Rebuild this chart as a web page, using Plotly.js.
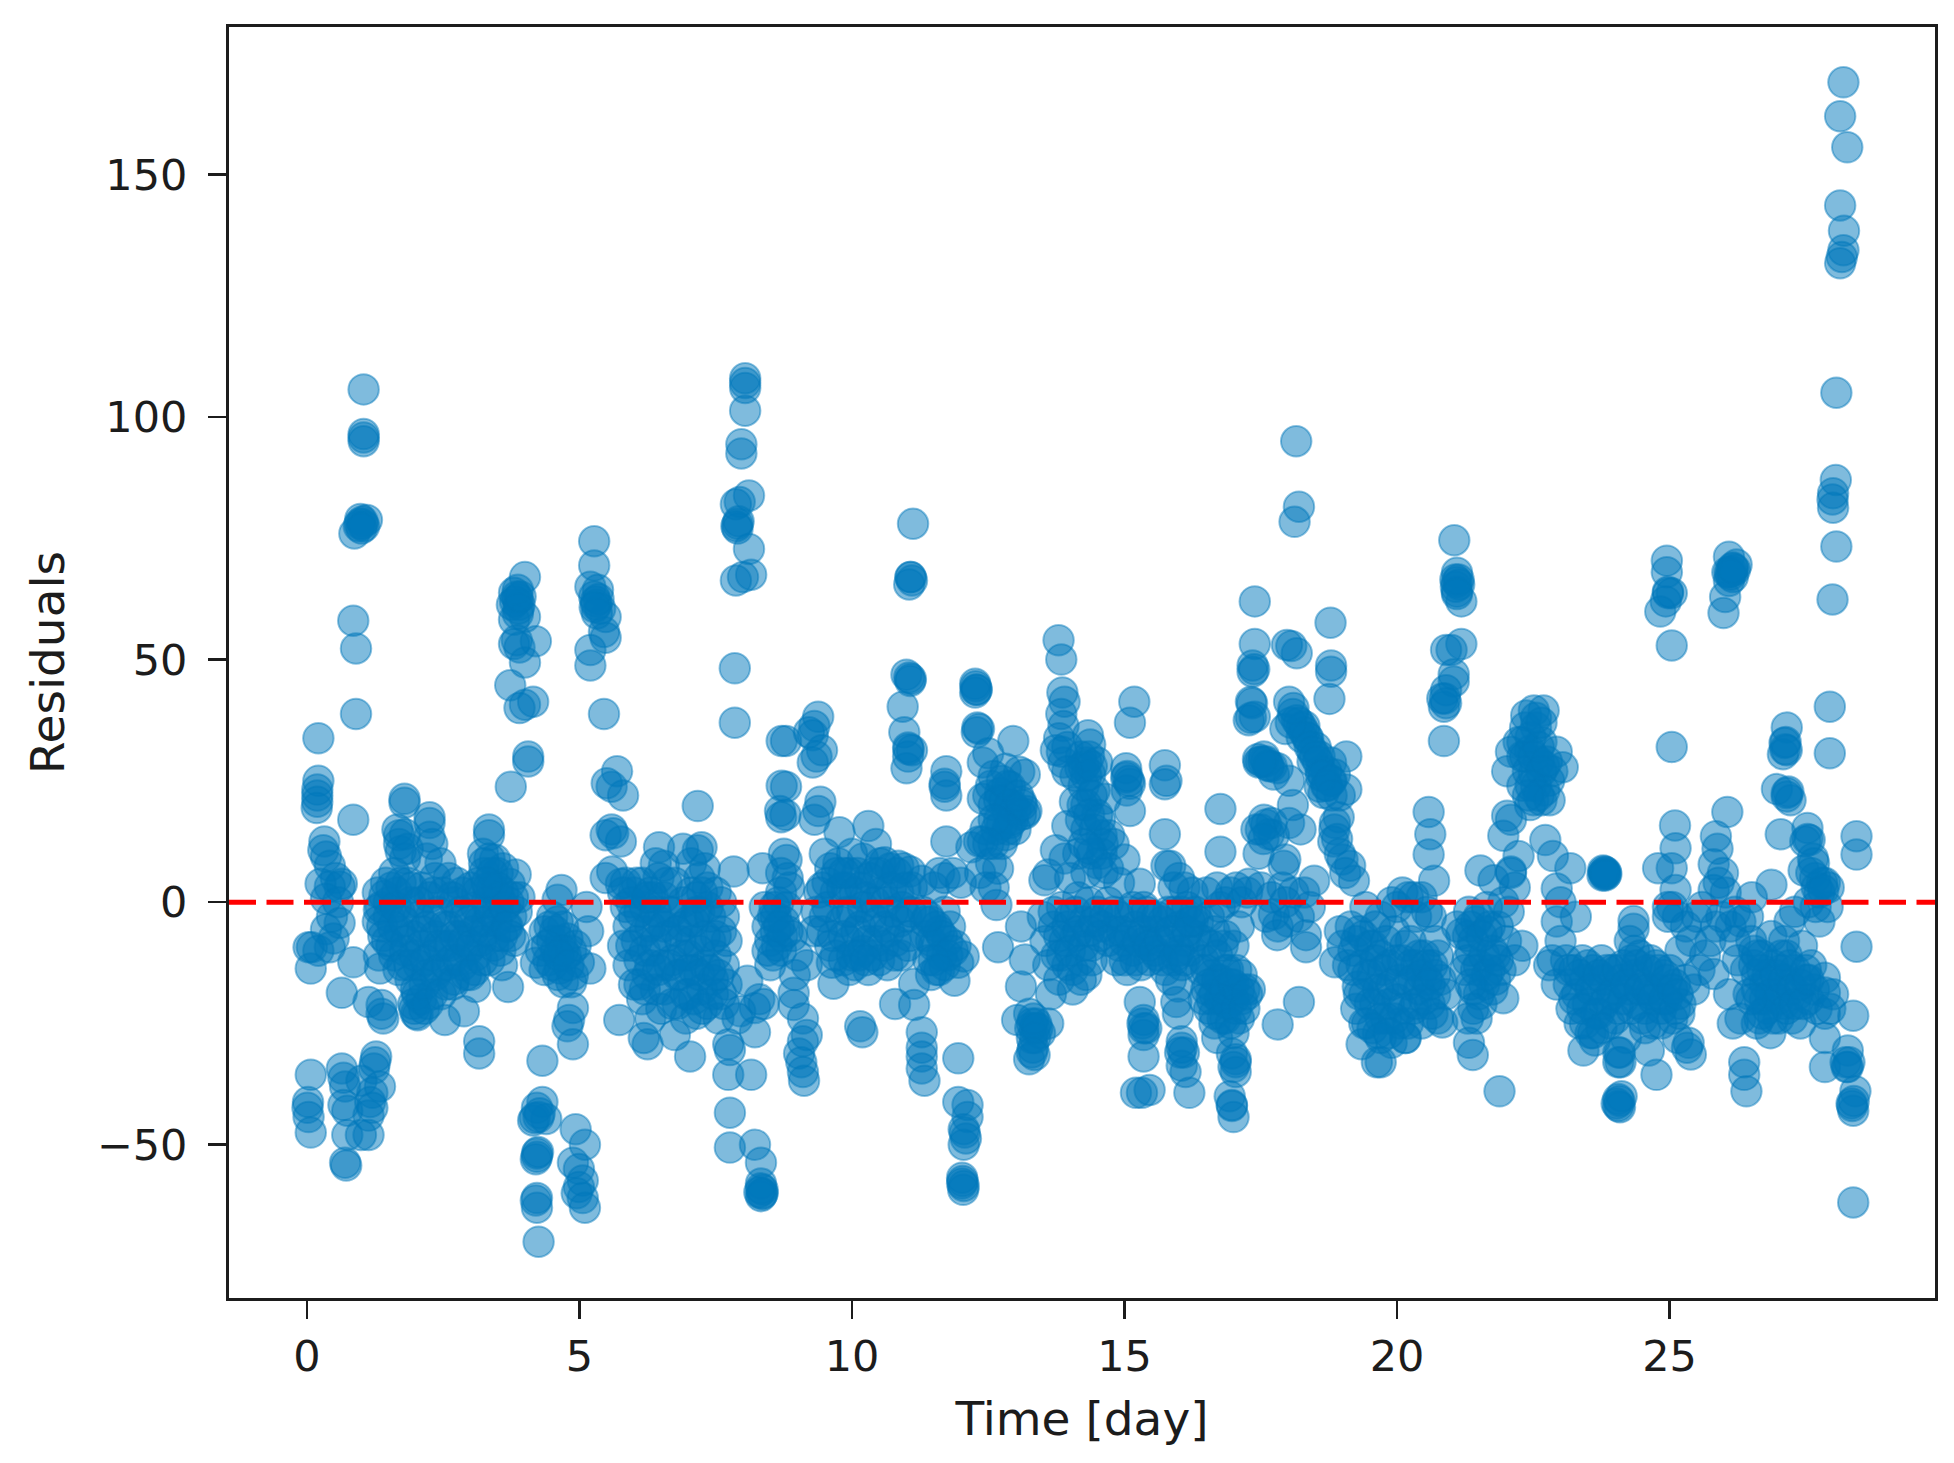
<!DOCTYPE html>
<html><head><meta charset="utf-8">
<script src="https://cdn.plot.ly/plotly-3.0.1.min.js"></script>
<style>html,body{margin:0;padding:0;background:#fff}</style></head>
<body><div id="chart" style="width:1954px;height:1463px"></div>
<script>
const week1 = [
[0.07,-35.6],[0.02,-41.2],[0.01,-42.4],[0.03,-44.3],[0.07,-47.5],[0.07,-13.7],[0.09,-9.3],[0.03,-9.3],
[0.21,33.8],[0.21,25],[0.19,23.2],[0.19,22],[0.19,20.7],[0.18,19.4],[0.32,12.5],[0.3,10.7],[0.35,9.4],[0.42,7.5],[0.53,5],[0.64,3.8],[0.6,3.2],[0.42,3.2],[0.25,3.8],[0.35,0.7],[0.57,0],[0.46,-3],[0.6,-4.3],[0.35,-5.6],[0.49,-7.5],[0.42,-9.3],[0.21,-10],[0.85,-12.4],[0.64,-18.7],
[1.04,105.7],[1.04,96.5],[1.04,95],[0.98,79],[1.02,78],[0.95,77.5],[0.87,76],[1.1,78.8],[0.85,58],[0.9,52.3],[0.9,38.8],[0.85,17],
[0.64,-34.3],[0.67,-36.2],[0.7,-38],[0.67,-41.8],[0.74,-43],[0.74,-48],[0.7,-53.7],[0.72,-54.3],[1.27,-31.8],[1.25,-33],[1.23,-34.3],[1.0,-36.8],[1.34,-38],[1.2,-39.3],[1.16,-41.2],[1.2,-42.4],[1.13,-44],[1.13,-48],[0.99,-48],
[1.13,-20.6],[1.37,-21.2],[1.37,-23],[1.4,-24],[1.34,-13.7],[1.32,-11],
[1.79,21.3],[1.79,20.5],[2.25,17.5],[2.25,16.3],[2.25,13.5],[1.69,13.8],[1.69,12],[1.66,15],[1.72,10.5],[3.34,15],[3.34,13.8],[3.23,10],[3.45,8.8],[3.83,5.7],[3.72,3.8],[3.16,-28.7],[3.16,-31.2],[1.97,-22],[2.03,-23.3],[2.53,-24.3],[2.88,-22.5],[3.09,-17.5],[3.69,-17.5],[3.58,-13],
[1.3,2],[1.35,-1],[1.3,-4],[1.4,-7],[1.45,4],[1.5,0],[1.5,-3],[1.55,-9],[1.6,-11],[1.6,6],[1.65,2],[1.7,-2],[1.7,-6],[1.75,-13],[1.8,-10],[1.8,9],[1.85,4],[1.9,0],[1.9,-16],[1.95,-21],[1.95,-7],[2,-18],[2,-23],[2.05,-13],[2.05,-3],[2.1,3],[2.1,-9],[2.1,-20],[2.15,-22],[2.2,9],[2.2,-5],[2.2,-15],[2.25,1],[2.3,-11],[2.3,-19],[2.35,5],[2.35,-7],[2.4,-2],[2.4,-14],[2.45,8],[2.5,-9],[2.5,2],[2.55,-17],[2.6,-5],[2.6,5],[2.65,-12],[2.7,0],[2.7,-16],[2.75,4],[2.8,-7],[2.85,-13],[2.85,2],[2.9,-3],[2.95,-10],[3,-15],[3,3],[3.05,-6],[3.1,-1],[3.1,-11],[3.15,4],[3.2,-8],[3.25,6],[3.3,0],[3.3,-4],[3.35,-12],[3.4,3],[3.45,-7],[3.5,6],[3.5,-1],[3.55,-10],[3.6,2],[3.65,-5],[3.7,0],[3.75,-3],[3.8,-8],[3.85,-2],[3.9,1],[3.6,7],[3.35,9],[3.25,8],
[4.0,67],[3.87,64.4],[3.8,63.8],[3.87,62.5],[3.76,61.3],[3.9,61.3],[3.87,59.4],[4.0,58.8],[3.8,58.2],[3.8,53.2],[3.9,52.5],[4.2,53.8],[4,49.4],[3.73,44.7],[4,40.7],[4.15,41.3],[3.9,40],[4.06,30],[4.06,29],[3.74,23.8],
[4.67,2.5],[4.6,0.5],[5.13,-1],[5.16,-6],[5.2,-13.7],[4.36,-6],[4.29,-10],[4.5,-3],[4.7,-5],[4.78,-7.5],[4.57,-10],[4.43,-12],[4.64,-13.7],[4.88,-15],[4.99,-12.4],[4.36,-14],[4.2,-12.5],[4.7,-16.5],[4.85,-16.5],[4.5,-8],[4.6,-15],[4.93,-9],
[4.88,-21.8],[4.81,-24.3],[4.78,-25.6],[4.88,-29.3],[4.32,-32.7],[4.32,-41.2],[4.22,-42.4],[4.15,-45],[4.39,-44.7],[4.25,-44.3],[4.22,-51.8],[4.2,-53],[4.22,-61],[4.22,-63],[4.25,-70],
[4.93,-46.8],[5.1,-50],[4.88,-53.7],[4.99,-55],[5.06,-57.4],[4.99,-58.7],[4.95,-60],[5.06,-61],[5.1,-63],
[5.27,74.4],[5.27,69.4],[5.2,65],[5.34,64.4],[5.27,63],[5.31,61.3],[5.38,60.5],[5.48,58.8],[5.45,55.7],[5.48,54.5],[5.2,52],[5.2,48.8],[5.45,38.8],
[5.69,27],[5.59,23.8],[5.8,22],[5.5,24.5],[5.59,15],[5.62,14.2],[5.48,13.8],[5.76,12.5],[5.6,6.3],[5.48,5],[5.76,3.8],
[5.73,-24.3],[6.25,-29.3],[7.03,-31.8],[6.75,-27.4],[6.18,-28],
[6.46,11.3],[6.4,8],[6.55,7.5],[7.17,19.8],[7.24,11.3],[7.17,10.7],[7.05,8],[7.3,7],[7.83,6.3],[8.36,7],[7.2,5],[7.35,3],[6.9,11],
[5.8,2],[5.85,-1],[5.9,-5],[5.8,-9],[5.9,-13],[6,2],[6,-3],[6.05,-8],[6,-17],[6.1,-12],[6.15,4],[6.2,-1],[6.2,-6],[6.15,-20],[6.25,-15],[6.3,-24],[6.35,1],[6.35,-10],[6.4,-18],[6.45,-4],[6.5,-13],[6.5,-22],[6.55,1],[6.6,-7],[6.7,-12],[6.7,-2],[6.75,4],[6.8,-21],[6.85,-8],[6.85,-15],[6.9,0],[6.95,-24],[7,-4],[7,-11],[7,-19],[7.05,2],[7.1,-14],[7.15,-2],[7.15,-23],[7.2,-10],[7.25,-18],[7.3,-13],[7.35,-1],[7.35,-21],[7.4,-8],[7.45,-16],[7.5,2],[7.5,-11],[7.55,-24],[7.6,-6],[7.6,-19],[7.65,-13],[7.7,-8],[7.7,-17],
[7.73,-29.3],[7.76,-30.5],[7.73,-35.6],[8.15,-35.6],[7.76,-43.4],[7.76,-50.6],[8.22,-50],[8.33,-53.7],[8.33,-58],[8.36,-59.3],[8.33,-60.6],[8.36,-60],[8.22,-21.8],[8.22,-26.8],[8.08,-16.2],[7.95,-22.5],[7.9,-24],[8.3,-20],
[8.04,108],[8.04,106],[8.04,101.3],[7.97,94.4],[7.97,92.5],[8.11,83.8],[7.87,82],[7.94,82.5],[7.9,78],[7.9,77],[8.11,72.8],[8,67],[8.15,67.5],[7.87,66.3],[7.85,48.2],[7.85,37]
];
const week2 = [
[8.71,33.2],[8.71,24],[8.68,18.8],[8.7,17.5],[8.78,18],[8.79,33.2],[8.79,23.8],[8.75,10],[8.8,8.7],[8.82,5],[8.7,6],[8.4,-1],[8.45,-5],[8.5,-8],[8.55,-3],[8.6,-6],[8.65,0],[8.7,-10],[8.75,-4],[8.8,-1],[8.85,3],[8.9,-7],[8.55,-11],
[9.38,38.2],[9.31,36.3],[9.28,34.4],[9.21,35],[9.45,31.3],[9.35,30],[9.28,28.8],[9.42,20.7],[9.38,18.8],[9.31,17],
[10.15,-25.6],[10.19,-26.8],[10.79,-21],[11.14,-16.8],[11.14,-21.2],[11.28,-26.8],[11.28,-30],[11.28,-31.8],[11.28,-34.3],[11.33,-36.8],
[9.1,-28.7],[9.03,-31.2],[9.07,-33],[9.1,-35],[9.12,-36.8],[9.17,-27.4],[9.17,-13],[8.93,-18.7],[8.93,-21.2],[9.1,-24],[9.66,-16.8],[9.63,-12.5],[8.95,-15],[9,-11],
[10.3,15.7],[9.77,14.4],[10.6,8.2],[10.85,7.5],[10.44,12],[11.07,6.3],[11.28,4.4],[9.5,10],[9.6,7],[9.7,2],[9.45,3],[9.35,-2],[9.3,-6],[9.45,-6],[9.55,-1],[9.6,-9],[9.75,8],[9.8,-4],[9.85,-12],[9.9,3],[9.95,-8],[10,10],[10,-2],[10.05,-13],[10.1,6],[10.15,-5],[10.2,-10],[10.25,1],[10.3,-14],[10.35,-3],[10.4,6],[10.45,-8],[10.5,-12],[10.55,2],[10.6,-5],[10.65,-13],[10.7,7],[10.75,-2],[10.8,-8],[10.85,2],[10.9,-11],[10.95,7],[11,-3],[11.05,-7],[11.1,3],[10.2,9],[10.5,6],
[11.12,78],[11.07,67],[11.1,66.3],[11.05,65.5],[11.05,46.3],[11.0,46.9],[11.07,45.6],[10.93,40.3],[10.96,35],[11.03,31.9],[11.1,31.3],[11.03,30],[11,27.6],
[11.73,27],[11.7,24.4],[11.73,22],[11.7,23.8],[11.73,12.5],[11.6,6],[11.5,3],[11.7,5],[11.85,6],[12,4],
[12.26,45],[12.29,43.8],[12.26,43.2],[12.33,35.7],[12.29,35],[12.96,33.2],[12.72,22.5],[12.4,21.3],[12.4,28.8],[12.5,30.7],[12.82,27.5],[13.07,26.9],[13.17,26.3],[12.9,23.8],[13.1,20.7],[13.17,18.2],[13.2,18.8],[12.9,16.3],[12.82,13.8],[12.4,12.5],[12.19,11.3],[12.33,12.5],[12.68,6.9],[12.65,-0.6],[12.6,12],[12.7,17],[12.75,12],[12.95,20],[13,15],[12.55,24],[12.6,20],[12.45,15],[12.85,19],[12.55,8],[12.35,6],[12.45,3],[12.6,3],
[11.95,-32.2],[11.95,-41.2],[12.12,-41.8],[12.12,-44.3],[12.05,-46.8],[12.09,-48.7],[12.05,-50],[12.02,-56.8],[12.02,-58],[12.04,-59.3],
[11.3,-2],[11.35,-7],[11.4,-12],[11.45,-4],[11.5,-9],[11.55,-14],[11.6,-6],[11.65,-11],[11.7,-2],[11.75,-8],[11.8,-5],[11.88,-16.2],[12.05,-11.2],[11.9,-9],[11.95,-12.5],[11.45,-15],[11.7,-13],
[12.68,-9.3],[13.1,-5],[13.17,-11.8],[13.1,-17.4],
[13.25,-23],[13.35,-26],[13.03,-24.3],[13.38,-25],[13.45,-27],[13.32,-30],[13.25,-32.4],[13.35,-31.5],[13.6,-25],[13.3,-28],
[13.79,54],[13.84,50],[13.86,43.2],[13.9,41.3],[13.84,38.8],[13.88,36.3],[13.8,33.8],[13.74,31.3],[13.88,28.8],[14.33,34.4],[14.37,32.5],[14.19,27.6],[14.3,28.8],[14.5,28.8],[14.37,26.3],[14.23,20],[14.09,20.7],[14.65,21.3],[13.95,15.7],[13.74,10.7],[13.6,5.7],[13.53,4.5],[14.3,15],[14.58,13.8],[14.72,13.8],[14.8,12],[14.58,10],[15,8.8],[15.28,3.8],[14.1,26],[14.25,24],[14.45,23],[14.5,18],[14.4,10],[14.15,10],[14.3,6],[14.6,6],[14.9,4],[13.9,9],[14,5],
[15.18,41.3],[15.1,37],[15.03,27.6],[15.03,25.7],[15.1,24.4],[15.04,23],[15.1,18.8],[15.74,28.2],[15.77,25],[15.74,24.3],[15.74,14],[15.84,7.5],[15.77,7.5],[16,5],[15.9,3],[16.1,3],[16.25,2],
[15.28,-20.6],[15.35,-24.3],[15.4,-26],[15.35,-27.4],[15.35,-31.8],[15.21,-39.3],[15.46,-38.7],[15.32,-39.3],
[15.98,-17.4],[15.95,-20.6],[15.98,-23],[16.05,-28.7],[16.09,-31],[16.05,-33.7],[16.12,-35],[16.19,-39.3],
[13.5,-3],[13.55,-8],[13.6,-13],[13.65,-19],[13.7,-5],[13.75,-11],[13.8,-16],[13.85,-1],[13.9,-8],[13.95,-13],[14,-3],[14.05,-18],[14.1,-7],[14.15,1],[14.2,-12],[14.25,-4],[14.3,-15],[14.35,0],[14.4,-9],[14.5,-2],[14.6,-5],[14.7,0],[14.8,-6],[14.85,-12],[14.9,-3],[15,-8],[15.05,-14],[15.1,-2],[15.15,-10],[15.2,-5],[15.3,-13],[15.35,-1],[15.4,-8],[15.45,-12],[15.5,-3],[15.55,-6],[15.6,-11],[15.7,-4],[15.75,-14],[15.8,-8],[15.85,-16],[15.9,-2],[15.95,-11],[16,-5],[16.05,-13],[16.1,-8],[16.15,-1],[16.2,-10],[16.25,-4],[16.3,-7]
];
const week3 = [
[16.76,19.2],[16.76,10.4],[17.04,-32.4],[16.97,-31.2],[17.04,-35],[16.93,-40],[16.97,-41.8],[17,-44.3],
[16.4,-14],[16.5,-18],[16.55,-22],[16.65,-25],[16.85,-24],[17.0,-20],[17.2,-18],[17.3,-18],[17.1,-24],[16.7,-28],[16.6,-15],[16.45,-20],[16.75,-16],[16.85,-14],[16.95,-17],[17.05,-14],[17.15,-20],[16.65,-19],[16.8,-20],[16.35,-4],[16.45,-8],[16.55,-3],[16.65,-6],[16.75,-1],[16.85,0],[16.95,2],[17.05,3],[17.15,0],[16.7,3],[16.5,2],[17.1,-5],[17,-9],[16.6,-9],[16.85,-7],
[17.39,62],[17.39,53.2],[17.35,48.8],[17.35,47.5],[17.32,41.3],[17.28,37.5],[17.39,38.2],[17.56,30],[17.46,28.8],[17.63,28.2],[17.74,26.3],[17.81,27.6],[17.45,29.5],[17.7,28],
[17.42,15],[17.56,17],[17.7,16.3],[17.74,13.8],[17.46,10],[17.92,7.5],[17.95,8.8],[18.02,16.3],[17.28,3.8],[17.25,2],[17.74,-2.5],[17.81,-5],[17.8,-6.8],[17.81,-25.2],[18.2,-20.6],[18.33,-6.8],[18.33,-9.3],[18.48,4.4],[17.5,3],[17.7,1],[17.9,3],[18.1,2],[18.2,-3],[18.4,-1],[17.6,-3],[18,-4],[18.3,2],[17.95,0],
[18.15,95],[18.2,81.5],[18.12,78.4],[18.06,52.8],[18.16,51.3],[17.98,53],[18.78,57.6],[18.79,48.8],[18.79,47.5],[18.76,41.9],[18.02,41.3],[18.09,38.8],[18.16,37.5],[17.95,35.7],[18.3,36.3],[18.37,33.8],[18.51,31.9],[18.58,30],[18.79,28.8],[19.07,30],[18.86,26.3],[18.58,23.8],[18.65,22.5],[19.07,23.2],[18.23,15],[18.09,20],[18.02,25],[18.86,16.3],[18.93,17.5],[18.83,12.5],[19,8.8],[19.14,7.5],[19.21,4.4],[19.42,-1],[18.45,29],[18.7,27],[18.25,34],[18.6,27],[18.8,25],[18.95,22],[18.7,24],
[18.86,-12.4],[19.28,-17.4],[19.35,-29.3],[19.63,-33],[19,-9],[19.1,-13],[18.95,-6],[19.15,-5],[19.2,-10],[19.25,-22],[19.3,-6],[19.35,-13],[19.4,-19],[19.45,-25],[19.5,-9],[19.55,-15],[19.6,-21],[19.65,-27],[19.7,-11],[19.75,-18],[19.8,-24],[19.85,-13],[19.9,-29],[19.95,-6],[20,-20],[20.05,-25],[20.1,-12],[20.15,-28],[20.2,-17],[20.25,-8],[20.3,-22],[20.35,-13],[20.4,-18],[20.45,-25],[20.5,-11],[20.55,-16],[20.6,-21],[20.65,-13],[20.7,-19],[20.75,-24],[20.83,-24.8],[19.7,-33],[20.16,-28],[20.8,-16],[20.9,-19],[20.7,-8],[20.3,1],[20.1,2],[19.9,0],[20.2,1],[20,-1],[19.7,-3],[20.45,1],[19.6,-5],[20.35,-3],[20.55,-2],
[20.58,18.6],[20.61,14],[20.58,9.8],[20.68,4.4],[20.62,-3],
[21.05,74.6],[21.1,67.9],[21.07,66.5],[21.14,65.5],[21.1,64],[21.18,62],[21.18,53.2],[20.9,52],[21,52],[21.04,47],[21.04,45.5],[20.9,43.7],[20.83,42],[20.86,40.3],[20.86,33.2],
[21.53,6.5],[21.88,-39],[21.77,4.5],[22.09,6.3],[22.16,3],[21.39,-31.5],[21.32,-29],[21.46,-24],[21.25,-14],[21.8,-11],[21.95,-19.8],[22.16,-12],[22.3,-9],[21.18,-6.5],[21.1,-5],[21.32,-2],[21.3,-7],[21.5,-13],[21.6,-17],[21.7,-14],[21.4,-18],[21.55,-21],[21.35,-10],[21.65,-6],[21.85,-5],[22,-8],[21.5,-3],[21.9,-14],[21.75,-18],[21.45,-4],[21.65,-1],[22.05,-2],[21.95,0]
];
const week4 = [
[22.51,39.5],[22.69,39.5],[22.37,38.5],[22.23,33],[22.44,31.2],[22.09,31],[22.65,33],[22.93,31],[23.04,27.8],[22.02,27],[22.3,30],[22.51,26.5],[22.79,25],[22.3,24],[22.65,21],[22.44,20],[22.02,17.8],[22.09,17],[21.95,13.7],[22.23,9.5],[22.09,6],[22.55,36],[22.6,29],[22.7,28],[22.85,27],
[22.72,12.8],[22.86,9.5],[23.18,7],[22.93,2.8],[23,0],[22.93,-4],[23.28,-3],[22.79,-13],[22.93,-17],[22.85,-12],[23,-8],
[23.81,6],[23.8,6.3],[23.77,5.5],[23.84,5.8],
[23.42,-30.6],[23.63,-28.5],[24.06,-33],[24.09,-31],[24.06,-40.6],[24.09,-42.3],[24.06,-42],[24.76,-35.6],[24.62,-30.6],[24.55,-26],[24.34,-3.9],[24.34,-5.5],[24.27,-8],[24.2,-28],
[23.1,-12],[23.15,-17],[23.2,-22],[23.25,-14],[23.3,-19],[23.35,-25],[23.4,-12],[23.45,-16],[23.5,-21],[23.55,-27],[23.6,-14],[23.65,-18],[23.7,-23],[23.75,-12],[23.8,-16],[23.85,-20],[23.9,-25],[23.95,-14],[24,-18],[24.05,-22],[24.1,-16],[24.15,-13],[24.25,-18],[24.3,-12],[24.35,-15],[24.4,-21],[24.45,-11],[24.5,-17],[24.55,-22],[24.6,-14],[24.65,-19],[24.7,-25],[24.75,-13],[24.8,-18],[24.85,-22],[24.9,-15],[24.95,-20],[25,-14],[25.05,-24],[25.1,-17],[25.15,-28],[25.2,-21],
[25.35,-29],[25.39,-31.4],[25.32,-30],[25.18,-23],[25.3,-16],[25.45,-18],[25.55,-14],[25.65,-11],[25.75,-8],[25.85,-5],[25.95,-3],[25.3,-5],[25.4,-8],[25.5,-3],[25.6,-1],[25.2,-10],[25.15,-3],[25.05,-1],
[24.95,70.4],[24.95,68],[24.97,63.7],[25.04,63.7],[24.93,62],[24.83,59.9],[25.04,52.9],[25.04,32],[25.1,15.8],[25.11,11.1],[25.04,7],[24.79,7],[25.11,2.5],[24.97,-1],[24.97,-3],
[26.09,71.2],[26.23,69.6],[26.16,68.8],[26.06,68],[26.16,67],[26.09,66.2],[26.02,62.9],[25.99,59.6],[26.06,18.6],[25.85,13.6],[25.88,11],[25.81,7.8],[25.98,6],[25.81,2.5],[25.81,-14.8],[26.03,2],[25.9,4],
[26.41,-39],[26.37,-35.6],[26.37,-33],[26.3,-24],[26.16,-25],[26.09,-19],[26.2,-8],[26.25,-12],[26.3,-4],[26.12,-5],[26.2,-2],
[26.87,3.6],[26.51,1],[27.43,-9],[26.44,-3],[26.87,-7],[26.5,-8],[26.55,-13],[26.6,-18],[26.65,-24],[26.7,-11],[26.75,-17],[26.8,-22],[26.85,-27],[26.45,-19],[26.9,-13],[26.95,-19],[27,-24],[27.05,-14],[27.1,-21],[27.15,-11],[27.2,-17],[27.25,-24],[27.3,-14],[27.35,-19],[27.4,-25],[27.5,-16],[27.55,-20],[27.6,-13],[27.65,-18],[27.7,-22],[27.1,-8],[27.2,-4],[27.3,-2],[26.6,-25],[26.4,-14],
[27.15,36],[27.11,32.8],[27.08,30.5],[27.15,31.3],[26.97,23.3],[27.18,22.8],[27.22,21],[27.04,14],
[27.53,15.3],[27.57,12.8],[27.46,6.5],[27.67,5],[27.85,4],[27.92,3],[27.68,-1],[27.49,12.5],[27.63,9],[27.75,-4],[27.55,0],[27.9,-1],
[27.85,-15.6],[27.85,-18.6],[27.85,-23],[27.85,-28],[27.85,-34],[27.95,-22],[28,-19],
[28.19,169],[28.13,162],[28.26,155.6],[28.13,143.6],[28.2,138.4],[28.19,134.4],[28.16,133],[28.13,131.7],[28.06,105],[28.05,87],[28,84.3],[27.99,83],[28,81.3],[28.06,73.3],[27.99,62.4],[27.94,40.3],[27.94,30.7],
[28.43,13.6],[28.43,9.8],[28.43,-9.2],[28.37,-23.4],[28.27,-30.6],[28.23,-33],[28.27,-34],[28.41,-39],[28.34,-41.5],[28.37,-43],[28.37,-61.9]
];
const denseEarly = [
[1.32,-1.5],[1.42,1.3],[1.38,-5],[1.47,-8],[1.55,3],[1.58,-5],[1.63,-1],[1.68,-14],[1.72,4],[1.78,-4],[1.82,-8],[1.88,-13],[1.92,3],[1.98,-11],[2.02,-19],[2.06,0],[2.12,-6],[2.16,-17],[2.18,-12],[2.22,-21],[2.27,-3],[2.32,2],[2.36,-15],[2.42,-9],[2.46,-19],[2.52,-5],[2.56,-13],[2.62,-9],[2.66,1],[2.68,-17],[2.72,-7],[2.78,-12],[2.82,-2],[2.88,-8],[2.92,-15],[2.98,-4],[3.02,-9],[3.08,-14],[3.12,2],[3.17,-4],[3.22,-12],[3.28,-6],[3.33,3],[3.37,-2],[3.42,-9],[3.48,-4],[3.53,1],[3.58,-7],[3.63,-1],[3.68,-5],[3.73,-7],[3.78,1],[3.4,6],[3.5,3],[3.3,4],[1.8,14],[1.85,11],[2.3,12],
[1.02,78.5],[0.97,78],[1.05,77.5],[1.0,77],[1.04,95.8],[4.22,-52.5],[4.24,-51.5],[4.18,-44.5],[4.27,-43.5],[4.2,-61.5],
[3.85,63],[3.82,62],[3.88,60.5],[3.92,63],[3.85,54],[5.3,62],[5.35,62.5],[5.32,59.5],[5.28,60.8],
[4.45,-5],[4.55,-6],[4.65,-8],[4.75,-11],[4.5,-13],[4.6,-4],[4.85,-10],[4.7,-10],[4.4,-9],[4.62,-11],[4.8,-13],
[5.85,4],[5.95,0],[5.95,-9],[6.05,4],[6.1,-2],[6.1,-17],[6.2,-10],[6.2,-18],[6.3,2],[6.3,-5],[6.3,-13],[6.4,-2],[6.4,-8],[6.45,-14],[6.55,-5],[6.55,-18],[6.65,-2],[6.65,-13],[6.7,-21],[6.78,-6],[6.8,-15],[6.9,-5],[6.9,-11],[6.95,-19],[7,-14],[7.05,-8],[7.1,-4],[7.1,-20],[7.2,-2],[7.2,-15],[7.25,-22],[7.3,-7],[7.4,-14],[7.4,-3],[7.45,-19],[7.5,-7],[7.55,-15],[7.6,0],[7.65,-21],[7.65,-3],[7.15,1],[7.25,2],[6.25,1],[6.45,5],[6.6,4],
[8.33,-59],[8.35,-60.2],[8.3,-59.8],[8.38,-21],[8.5,-13],[8.45,-10],[8.62,-9],[8.58,-1],[8.72,-7],[8.82,-6],[8.6,-3],[8.7,2],[8.66,-5],
[8.04,107],[7.92,78.5],[7.88,77.5]
];
const denseLate = [
[9.4,2],[9.5,-3],[9.55,4],[9.65,-7],[9.7,-11],[9.72,6],[9.82,3],[9.85,-7],[9.92,-2],[9.95,6],[10,-11],[10.05,2],[10.08,-6],[10.15,3],[10.2,-1],[10.28,-8],[10.32,5],[10.38,-11],[10.42,0],[10.48,-4],[10.52,8],[10.58,-9],[10.62,0],[10.68,-6],[10.72,3],[10.78,-11],[10.82,6],[10.88,-4],[10.92,-1],[10.98,3],[11.02,-9],[11.08,-2],[9.85,6],[9.95,-14],[10.12,-11],[10.25,-12],
[11.08,46],[11.04,31.5],[11.08,67],[12.27,44.5],[12.28,43.8],[12.3,36],[12.03,-57.5],[12.05,-58.5],[12.07,-47.5],[11.35,-4],[11.45,-8],[11.55,-5],[11.65,-7],[11.75,-11],[11.85,-10],[11.5,-12],[11.6,-14],[11.4,-3],
[12.5,22],[12.6,26],[12.7,21],[12.75,25],[12.8,21],[12.85,24],[12.9,20],[12.95,17],[13,19],[13.05,22],[13.1,18],[13.12,20],[12.65,15],[12.75,16],[12.85,15],[12.6,17],[12.5,12],
[13.3,-25],[13.27,-26],[13.36,-28],[13.33,-24],[13.4,-26],[13.3,-31],
[13.7,-2],[13.8,-7],[13.85,-11],[13.95,-5],[14,-10],[14.05,-14],[14.1,-2],[14.15,-6],[14.2,-16],[14.25,-9],[14.35,-6],[14.4,-12],[14.45,-4],[14.55,-7],[14.65,-3],[14.7,-8],[14.8,-2],[14.9,-9],[14.95,-6],[15,-12],[15.1,-7],[15.15,-1],[15.2,-12],[15.25,-8],[15.35,-6],[15.4,-2],[15.45,-9],[15.55,-10],[15.6,-3],[15.65,-8],[15.7,-12],[15.8,-2],[15.85,-6],[15.9,-12],[16,-10],[16.05,-2],[16.1,-12],[16.15,-6],[16.2,-4],[16.3,-2],
[14.2,30],[14.25,28],[14.3,26],[14.35,30],[14.4,28],[14.4,22],[14.3,20],[14.2,17],[14.35,18],[14.45,15],[14.55,17],[14.6,12],[14.5,8],[14.7,7],[14.25,12],[14.35,11],[13.95,32],[13.85,31],[13.95,27],
[15.05,26],[15.08,25],[15.35,-26],[15.33,-25],[16.02,-31],[16.05,-30],
[16.45,-12],[16.5,-14],[16.55,-17],[16.6,-20],[16.65,-23],[16.7,-16],[16.75,-20],[16.8,-24],[16.85,-18],[16.9,-21],[16.95,-25],[17,-17],[17.05,-22],[17.1,-18],[17.15,-15],[17.2,-22],[17.25,-19],[16.9,-14],[16.7,-11],[16.8,-9],[17,-27],[17.04,-33],[17,-34],[16.97,-42],
[17.38,48],[17.34,41],[17.32,38],[17.55,29],[17.6,29],[17.65,28],[17.5,29],[17.6,16],[17.65,14],[17.5,15],[17.55,13],
[18.2,37],[18.25,36],[18.3,35],[18.35,34],[18.4,32],[18.45,31],[18.5,30],[18.55,29],[18.6,26],[18.65,26],[18.72,24],[18.78,25],[18.8,22],[18.05,37],[18.1,40],[18.85,15],[18.9,13],[18.95,10],[19.05,6],
[19.2,-14],[19.25,-8],[19.3,-19],[19.38,-7],[19.4,-25],[19.45,-15],[19.5,-21],[19.55,-9],[19.6,-12],[19.65,-18],[19.7,-24],[19.75,-14],[19.8,-8],[19.85,-21],[19.9,-17],[19.95,-24],[20,-12],[20.05,-16],[20.1,-22],[20.15,-9],[20.2,-25],[20.25,-13],[20.3,-16],[20.35,-21],[20.4,-11],[20.45,-15],[20.5,-20],[20.55,-13],[20.6,-17],[20.65,-23],[20.7,-15],[20.75,-11],[19.55,-26],[19.7,-28],[19.85,-27],
[21.08,65],[21.1,66],[21.13,66.5],[21.1,63.5],[20.88,42],[20.9,41],
[21.3,-12],[21.35,-5],[21.4,-8],[21.45,-14],[21.5,-19],[21.55,-7],[21.6,-11],[21.65,-15],[21.7,-5],[21.75,-10],[21.8,-16],[21.85,-12],[21.35,-17],[21.4,-22],[21.3,-24],
[22.3,33],[22.35,30],[22.4,27],[22.45,34],[22.5,30],[22.55,24],[22.6,32],[22.65,27],[22.7,23],[22.75,29],[22.45,24],[22.5,21],[22.6,22],[22.35,36],[22.55,38],[22.65,37],[22.8,21],[22.4,22],
[23.15,-14],[23.25,-20],[23.35,-15],[23.4,-22],[23.5,-13],[23.55,-18],[23.65,-23],[23.7,-15],[23.8,-21],[23.85,-14],[23.95,-19],[24,-24],[24.05,-14],[24.15,-20],[24.2,-17],[24.3,-22],[24.35,-10],[24.4,-13],[24.45,-18],[24.5,-24],[24.6,-18],[24.65,-12],[24.7,-20],[24.8,-14],[24.85,-25],[24.9,-20],[24.95,-16],[25.05,-18],[25.1,-22],[25.15,-19],[23.45,-25],[23.6,-27],[23.75,-26],[24.12,-40],[24.08,-41],[24.03,-41.5],[24.1,-33],[24.06,-31],
[23.8,5.8],[23.83,6.2],[23.78,6.5],[23.82,5.5],
[26.1,68],[26.14,68.2],[26.2,68.5],[26.12,67.5],[26.16,69],[24.97,64],
[26.55,-10],[26.6,-15],[26.65,-20],[26.7,-14],[26.75,-20],[26.8,-15],[26.85,-19],[26.9,-24],[26.95,-15],[27,-20],[27.05,-11],[27.1,-16],[27.15,-22],[27.2,-13],[27.25,-18],[27.3,-21],[26.7,-23],[26.5,-20],[26.6,-11],[27.4,-17],[27.45,-21],[27.5,-14],[27.55,-16],
[27.13,33],[27.12,31.5],[27.15,22.5],[27.15,21.8],[27.53,13],[27.6,6],[27.7,3],[27.8,4],[27.75,2],[27.65,8],[27.82,2.5],[28.25,-34],[28.3,-33],[28.35,-42],[28.38,-41]
];
const xTicks = [0,5,10,15,20,25];
const yTicks = [-50,0,50,100,150];
const xLabel = 'Time [day]';
const yLabel = 'Residuals';

const all = week1.concat(week2, week3, week4, denseEarly, denseLate);
const days = all.map(p => p[0]);
const residuals = all.map(p => p[1]);
const ink = '#1c1c1c';
const tickFont = {family:'"DejaVu Sans", sans-serif', size:43, color:ink};
const titleFont = {family:'"DejaVu Sans", sans-serif', size:47, color:ink};
const axisBase = {showgrid:false, zeroline:false, showline:true, mirror:true, linecolor:ink, linewidth:3,
  ticks:'outside', ticklen:18, tickwidth:2.5, tickcolor:ink, tickfont:tickFont};
Plotly.newPlot('chart', [{
  type:'scatter', mode:'markers', x:days, y:residuals, cliponaxis:true,
  marker:{size:30.5, color:'rgba(0,119,187,0.5)', line:{width:2, color:'rgba(0,119,187,0.45)'}},
  hoverinfo:'skip'
}], {
  width:1954, height:1463, paper_bgcolor:'#fff', plot_bgcolor:'#fff', showlegend:false,
  margin:{l:229, r:19, t:27, b:165, pad:0},
  xaxis:Object.assign({}, axisBase, {range:[-1.43,29.87], tickmode:'array', tickvals:xTicks,
    title:{text:xLabel, font:titleFont, standoff:23}}),
  yaxis:Object.assign({}, axisBase, {range:[-81.6,180.4], tickmode:'array', tickvals:yTicks, ticklabelstandoff:12,
    title:{text:yLabel, font:titleFont, standoff:18}}),
  shapes:[{type:'line', xref:'paper', x0:0, x1:1, yref:'y', y0:0, y1:0, layer:'above',
    line:{color:'#ff0000', width:5, dash:'27px,10.5px'}}]
}, {staticPlot:true, displayModeBar:false});
</script></body></html>
